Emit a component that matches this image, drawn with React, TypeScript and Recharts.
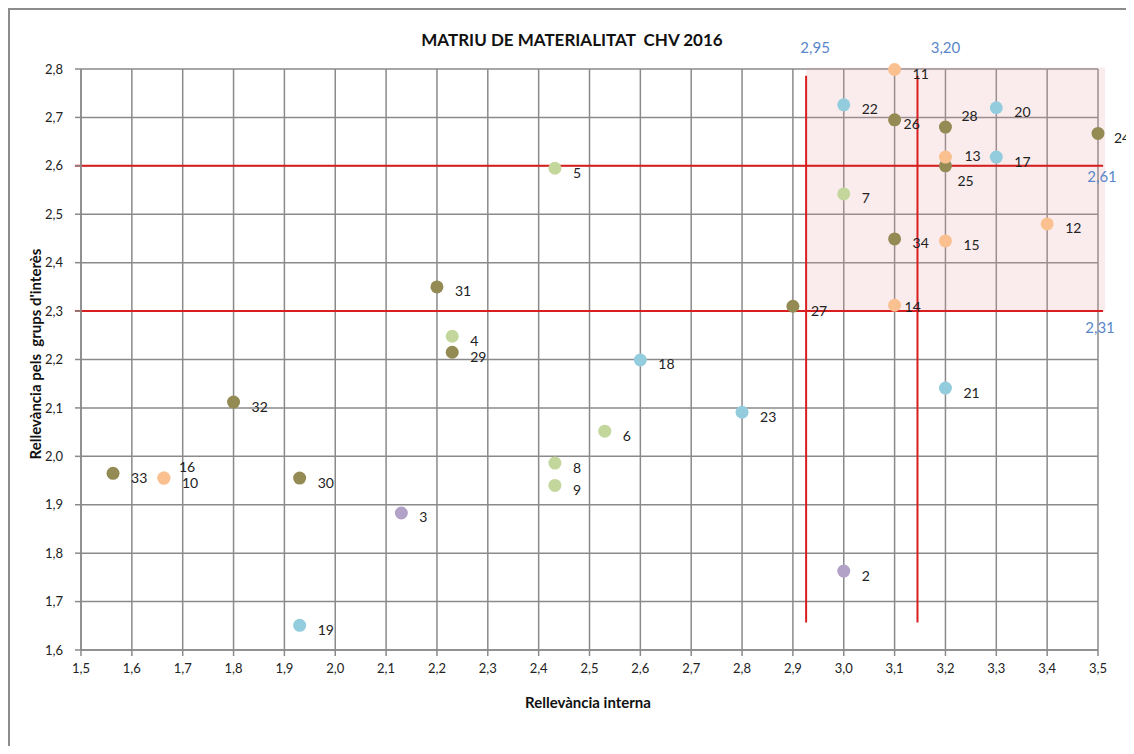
import React from 'react';
import {
  ScatterChart, Scatter, XAxis, YAxis, CartesianGrid, ReferenceLine, ReferenceArea,
} from 'recharts';

// punts per grup de color (id, rellevància interna, rellevància grups d'interès)
const olivePoints = [
  { id: '26', x: 3.1, y: 2.695 },
  { id: '28', x: 3.2, y: 2.68 },
  { id: '24', x: 3.5, y: 2.667 },
  { id: '25', x: 3.2, y: 2.6 },
  { id: '34', x: 3.1, y: 2.449 },
  { id: '27', x: 2.9, y: 2.31 },
  { id: '31', x: 2.2, y: 2.35 },
  { id: '29', x: 2.23, y: 2.215 },
  { id: '32', x: 1.8, y: 2.112 },
  { id: '33', x: 1.563, y: 1.965 },
  { id: '30', x: 1.93, y: 1.955 },
];
const bluePoints = [
  { id: '22', x: 3.0, y: 2.726 },
  { id: '20', x: 3.3, y: 2.72 },
  { id: '17', x: 3.3, y: 2.618 },
  { id: '18', x: 2.6, y: 2.199 },
  { id: '21', x: 3.2, y: 2.141 },
  { id: '23', x: 2.8, y: 2.091 },
  { id: '19', x: 1.93, y: 1.651 },
];
const orangePoints = [
  { id: '11', x: 3.1, y: 2.799 },
  { id: '13', x: 3.2, y: 2.618 },
  { id: '15', x: 3.2, y: 2.445 },
  { id: '12', x: 3.4, y: 2.48 },
  { id: '14', x: 3.1, y: 2.312 },
  { id: '16', x: 1.663, y: 1.955 },
  { id: '10', x: 1.663, y: 1.955 },
];
const greenPoints = [
  { id: '5', x: 2.432, y: 2.595 },
  { id: '7', x: 3.0, y: 2.542 },
  { id: '4', x: 2.23, y: 2.248 },
  { id: '6', x: 2.53, y: 2.052 },
  { id: '8', x: 2.432, y: 1.986 },
  { id: '9', x: 2.432, y: 1.94 },
];
const purplePoints = [
  { id: '3', x: 2.13, y: 1.883 },
  { id: '2', x: 3.0, y: 1.763 },
];

const xTicks = [1.5, 1.6, 1.7, 1.8, 1.9, 2.0, 2.1, 2.2, 2.3, 2.4, 2.5, 2.6, 2.7, 2.8, 2.9, 3.0, 3.1, 3.2, 3.3, 3.4, 3.5];
const yTicks = [1.6, 1.7, 1.8, 1.9, 2.0, 2.1, 2.2, 2.3, 2.4, 2.5, 2.6, 2.7, 2.8];

// llindars (valor dibuixat, etiqueta)
const vThresholds = [2.926, 3.145];
const vThresholdLabels = ['2,95', '3,20'];
const hThresholds = [2.6, 2.3];
const hThresholdLabels = ['2,61', '2,31'];

// petits desplaçaments d'etiquetes que se solapen
const labelNudge: Record<string, [number, number]> = {
  '26': [9, 4],
  '14': [10, 1],
  '28': [16, -12],
  '25': [12, 15],
  '16': [15, -12],
  '13': [19, -2],
  '24': [16, 4],
};

const FONT = 'Lato, "Open Sans", sans-serif';
const GRID = '#8a8a8a';
const RED = '#d81e1e';
const BLUE_TXT = '#5a87c9';
const W = 1118;
const H = 738;

const fmt = (v: number) => v.toFixed(1).replace('.', ',');

const dot = (color: string) => (props: any) => {
  const { cx, cy, payload } = props;
  const [dx, dy] = labelNudge[payload.id] || [18, 4];
  return (
    <g>
      <circle cx={cx} cy={cy} r={6.5} fill={color} />
      <text x={cx + dx} y={cy + dy} dominantBaseline="central" fontSize={14} fill="#222" fontFamily={FONT}>
        {payload.id}
      </text>
    </g>
  );
};

const lineLabel = (text: string, dx: number, dy: number) => (props: any) => {
  const vb = props.viewBox || {};
  const px = (vb.x || 0) + (vb.width || 0);
  const py = vb.y || 0;
  return (
    <text x={px + dx} y={py + dy} textAnchor="middle" dominantBaseline="central" fontSize={15} fill={BLUE_TXT} fontFamily={FONT}>
      {text}
    </text>
  );
};

const vLabelOffsets: [number, number][] = [[9, -29], [28, -29]];
const hLabelOffsets: [number, number][] = [[-1, 10], [-3, 16]];

export default function App() {
  return (
    <div style={{ position: 'relative', width: W, height: H, fontFamily: FONT }}>
      <div style={{ position: 'absolute', left: 0, top: 0, width: W, height: H, borderTop: '2px solid #8c8c8c', borderLeft: '2px solid #8c8c8c', boxSizing: 'border-box' }} />
      <div style={{ position: 'absolute', left: 0, width: 1128, top: 21, textAlign: 'center', fontWeight: 700, fontSize: 17, color: '#111' }}>
        MATRIU DE MATERIALITAT&nbsp;&nbsp;CHV 2016
      </div>
      <div style={{ position: 'absolute', left: 380, width: 400, top: 685, textAlign: 'center', fontWeight: 700, fontSize: 15, color: '#111' }}>
        Rellevància interna
      </div>
      <div style={{ position: 'absolute', left: 27, top: 347, width: 0, height: 0 }}>
        <div style={{ position: 'absolute', left: -150, top: -10, width: 300, textAlign: 'center', transform: 'rotate(-90deg)', fontWeight: 700, fontSize: 15, color: '#111', whiteSpace: 'nowrap' }}>
          Rellevància pels&nbsp;&nbsp;grups d'interès
        </div>
      </div>
      <div style={{ position: 'absolute', left: 0, top: 0 }}>
        <ScatterChart width={1126} height={H} margin={{ top: 61, right: 36, bottom: 66, left: 0 }}>
          <ReferenceArea x1={2.926} x2={3.514} y1={2.3} y2={2.803} ifOverflow="visible" fill="#e6a0a6" fillOpacity={0.2} stroke="none" />
          <CartesianGrid stroke={GRID} strokeWidth={1.5} />
          <XAxis
            type="number"
            dataKey="x"
            domain={[1.5, 3.5]}
            ticks={xTicks}
            tickFormatter={fmt}
            interval={0}
            height={30}
            stroke={GRID}
            strokeWidth={1.5}
            tickSize={6}
            tickMargin={8}
            tick={{ fill: '#222', fontSize: 13, fontFamily: FONT }}
          />
          <YAxis
            type="number"
            dataKey="y"
            domain={[1.6, 2.8]}
            ticks={yTicks}
            tickFormatter={fmt}
            interval={0}
            width={73}
            stroke={GRID}
            strokeWidth={1.5}
            tickSize={6}
            tickMargin={12}
            tick={{ fill: '#222', fontSize: 13, fontFamily: FONT }}
          />
          {hThresholds.map((v, i) => (
            <ReferenceLine
              key={`h${i}`}
              segment={[{ x: 1.488, y: v }, { x: 3.51, y: v }]}
              stroke={RED}
              strokeWidth={2}
              ifOverflow="visible"
              label={lineLabel(hThresholdLabels[i], hLabelOffsets[i][0], hLabelOffsets[i][1])}
            />
          ))}
          {vThresholds.map((v, i) => (
            <ReferenceLine
              key={`v${i}`}
              segment={[{ x: v, y: 2.786 }, { x: v, y: 1.657 }]}
              stroke={RED}
              strokeWidth={2}
              ifOverflow="visible"
              label={lineLabel(vThresholdLabels[i], vLabelOffsets[i][0], vLabelOffsets[i][1])}
            />
          ))}
          <Scatter data={olivePoints} fill="#948a54" shape={dot('#948a54')} isAnimationActive={false} />
          <Scatter data={bluePoints} fill="#93cddd" shape={dot('#93cddd')} isAnimationActive={false} />
          <Scatter data={orangePoints} fill="#fac090" shape={dot('#fac090')} isAnimationActive={false} />
          <Scatter data={greenPoints} fill="#c3d69b" shape={dot('#c3d69b')} isAnimationActive={false} />
          <Scatter data={purplePoints} fill="#b3a2c7" shape={dot('#b3a2c7')} isAnimationActive={false} />
        </ScatterChart>
      </div>
    </div>
  );
}
